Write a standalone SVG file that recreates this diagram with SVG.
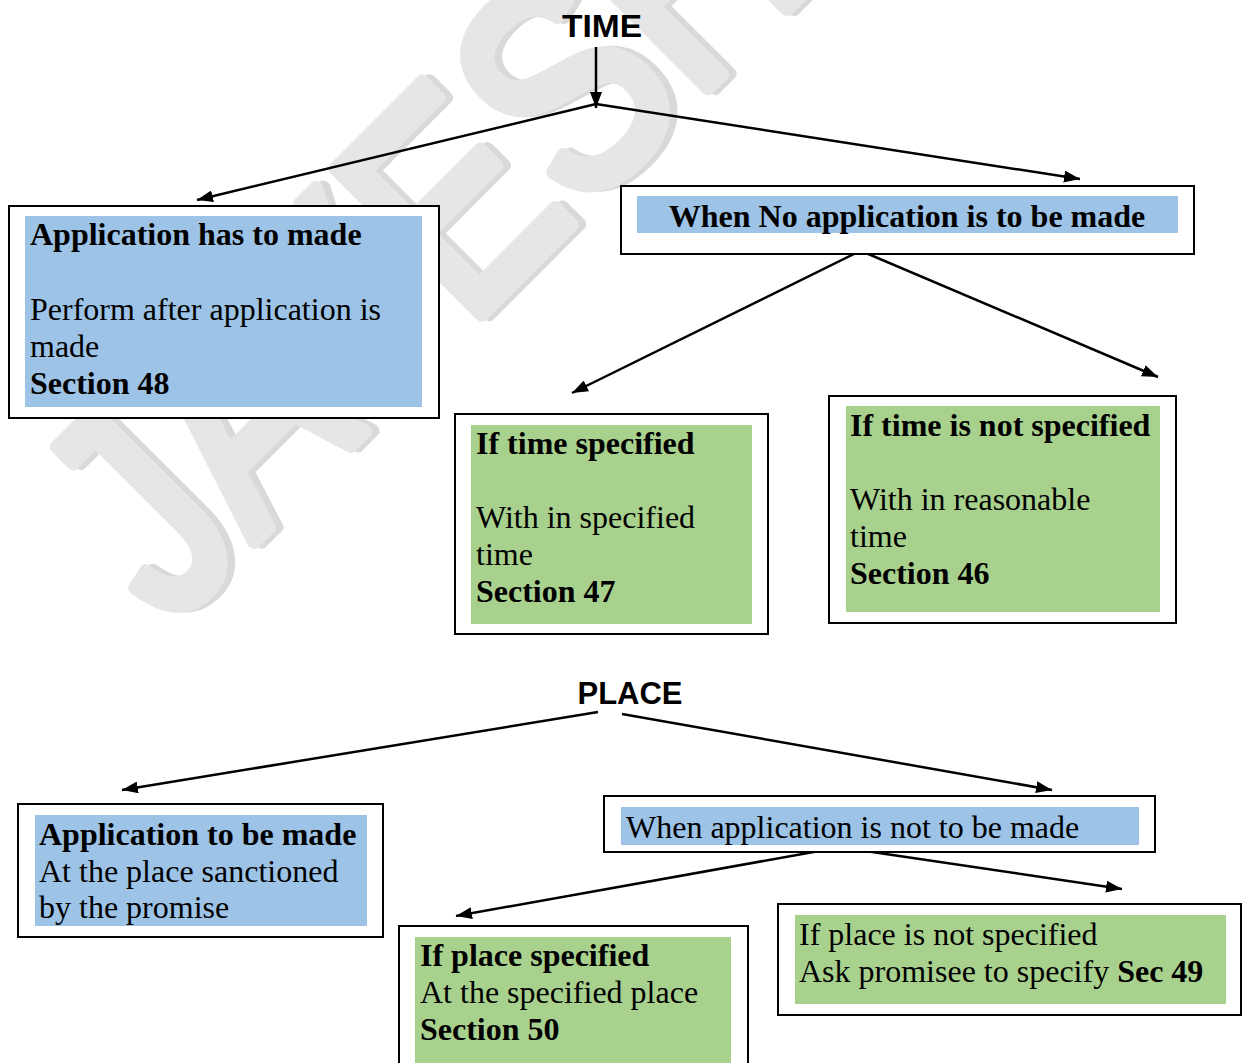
<svg xmlns="http://www.w3.org/2000/svg" width="1242" height="1063" viewBox="0 0 1242 1063">
  <defs>
    <marker id="arrow" viewBox="0 0 16 12" refX="16" refY="6" markerWidth="16" markerHeight="12" markerUnits="userSpaceOnUse" orient="auto">
      <path d="M0,0 L16,6 L0,12 z" fill="#000"/>
    </marker>
  </defs>
  <style>
    .frame { fill: #fff; stroke: #000; stroke-width: 2; }
    .blue { fill: #9dc3e6; }
    .green { fill: #a9d18e; }
    .head { font-family: "Liberation Sans", Arial, sans-serif; font-weight: bold; font-size: 32px; fill: #000; }
    .t { font-family: "Liberation Serif", "Times New Roman", serif; font-size: 32px; fill: #000; }
    .b { font-weight: bold; }
    .link { fill: none; stroke: #000; stroke-width: 2.5; marker-end: url(#arrow); }
    .mark { font-family: "Liberation Sans", Arial, sans-serif; font-size: 300px; stroke-width: 14; stroke-linejoin: round; }
    .mark-shade { fill: #d9d9d9; stroke: #d9d9d9; }
    .mark-face { fill: #e6e6e6; stroke: #e6e6e6; }
  </style>

  <rect width="1242" height="1063" fill="#fff"/>

  <!-- background watermark, condensed, with a faint offset shade -->
  <g id="watermark" transform="translate(168 628) rotate(-45) scale(0.8 1)">
    <text class="mark mark-shade" x="7" y="5">JAYESH</text>
    <text class="mark mark-face" x="0" y="0">JAYESH</text>
  </g>

  <!-- headings -->
  <text id="time" class="head" x="602" y="37" text-anchor="middle" textLength="80" lengthAdjust="spacingAndGlyphs">TIME</text>
  <text id="place" class="head" x="630" y="704" text-anchor="middle" textLength="105" lengthAdjust="spacingAndGlyphs">PLACE</text>

  <!-- connectors -->
  <g id="connectors">
    <path class="link" d="M596,47 L596,108"/>
    <path class="link" d="M596,104 L197,200"/>
    <path class="link" d="M596,104 L1080,179"/>
    <path class="link" d="M856,253 L572,393"/>
    <path class="link" d="M866,253 L1158,377"/>
    <path class="link" d="M598,712 L122,790"/>
    <path class="link" d="M622,714 L1052,790"/>
    <path class="link" d="M836,848 L456,916"/>
    <path class="link" d="M845,848 L1122,889"/>
  </g>

  <g id="app-required">
    <rect class="frame" x="9" y="206" width="430" height="212"/>
    <rect class="blue" x="25" y="216" width="397" height="191"/>
    <text class="t b" x="30" y="245">Application has to made</text>
    <text class="t" x="30" y="320">Perform after application is</text>
    <text class="t" x="30" y="357">made</text>
    <text class="t b" x="30" y="394">Section 48</text>
  </g>

  <g id="no-app">
    <rect class="frame" x="621" y="186" width="573" height="68"/>
    <rect class="blue" x="637" y="196" width="541" height="37"/>
    <text class="t b" x="907" y="227" text-anchor="middle">When No application is to be made</text>
  </g>

  <g id="time-specified">
    <rect class="frame" x="455" y="414" width="313" height="220"/>
    <rect class="green" x="471" y="425" width="281" height="199"/>
    <text class="t b" x="476" y="454">If time specified</text>
    <text class="t" x="476" y="528">With in specified</text>
    <text class="t" x="476" y="565">time</text>
    <text class="t b" x="476" y="602">Section 47</text>
  </g>

  <g id="time-unspecified">
    <rect class="frame" x="829" y="396" width="347" height="227"/>
    <rect class="green" x="846" y="406" width="314" height="206"/>
    <text class="t b" x="850" y="436">If time is not specified</text>
    <text class="t" x="850" y="510">With in reasonable</text>
    <text class="t" x="850" y="547">time</text>
    <text class="t b" x="850" y="584">Section 46</text>
  </g>

  <g id="place-app">
    <rect class="frame" x="18" y="804" width="365" height="133"/>
    <rect class="blue" x="35" y="815" width="332" height="111"/>
    <text class="t b" x="39" y="845">Application to be made</text>
    <text class="t" x="39" y="882">At the place sanctioned</text>
    <text class="t" x="39" y="918">by the promise</text>
  </g>

  <g id="place-no-app">
    <rect class="frame" x="604" y="796" width="551" height="56"/>
    <rect class="blue" x="621" y="807" width="518" height="38"/>
    <text class="t" x="626" y="838">When application is not to be made</text>
  </g>

  <g id="place-specified">
    <rect class="frame" x="399" y="926" width="349" height="150"/>
    <rect class="green" x="415" y="937" width="316" height="130"/>
    <text class="t b" x="420" y="966">If place specified</text>
    <text class="t" x="420" y="1003">At the specified place</text>
    <text class="t b" x="420" y="1040">Section 50</text>
  </g>

  <g id="place-unspecified">
    <rect class="frame" x="778" y="904" width="463" height="111"/>
    <rect class="green" x="795" y="915" width="431" height="89"/>
    <text class="t" x="799" y="945">If place is not specified</text>
    <text class="t" x="799" y="982">Ask promisee to specify <tspan class="b">Sec 49</tspan></text>
  </g>
</svg>
